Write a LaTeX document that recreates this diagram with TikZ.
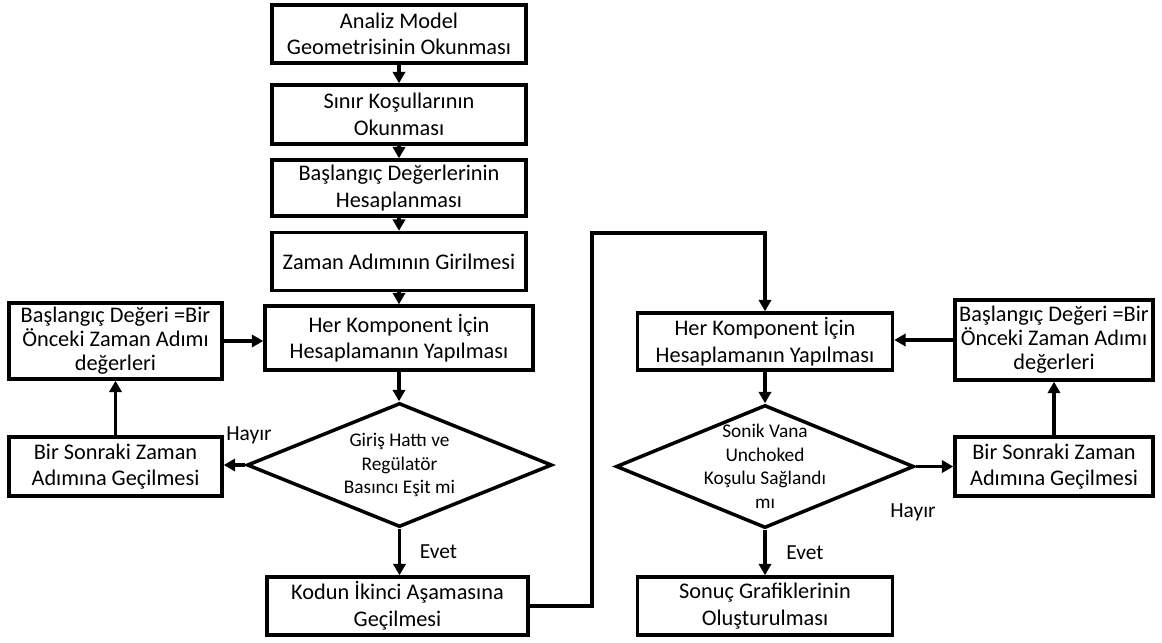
\documentclass[tikz,border=0pt]{standalone}
\usepackage{fontspec}
\setmainfont{Carlito}
\usepackage{tikz}
\usetikzlibrary{arrows.meta,positioning,shapes.geometric}

\begin{document}
\begin{tikzpicture}[
        stepbox/.style={draw, line width=2pt, align=center, inner xsep=2pt, inner ysep=1pt,
                        font=\fontsize{12.7}{15.1}\selectfont},
        sidebox/.style={stepbox, inner ysep=0pt, font=\fontsize{12.7}{13.6}\selectfont},
        decide/.style={draw, diamond, aspect=2.4, line width=2pt, align=center, inner sep=-5pt,
                       font=\fontsize{11}{13.4}\selectfont},
        tag/.style={font=\fontsize{12.2}{14}\selectfont},
        arr/.style={-{Triangle[length=6.5pt,width=7pt]}, line width=1.8pt}
    ]
        \useasboundingbox (0,0) rectangle (23.24,-12.84);

        % first stage
        \node[stepbox, minimum width=5.08cm, minimum height=1.16cm] (read) at (7.98,-0.68)
            {Analiz Model\\Geometrisinin Okunması};
        \node[stepbox, minimum width=5.08cm, minimum height=1.18cm, below=0.37cm of read] (bound)
            {Sınır Koşullarının\\Okunması};
        \node[stepbox, minimum width=5.08cm, minimum height=1.12cm, below=0.25cm of bound] (init)
            {Başlangıç Değerlerinin\\Hesaplanması};
        \node[stepbox, minimum width=5.08cm, minimum height=1.16cm, below=0.26cm of init] (dt)
            {Zaman Adımının Girilmesi};
        \node[stepbox, minimum width=5.36cm, minimum height=1.28cm, below=0.24cm of dt] (compA)
            {Her Komponent İçin\\Hesaplamanın Yapılması};

        \node[sidebox, minimum width=4.26cm, minimum height=1.52cm] (prevA) at (2.31,-6.82)
            {Başlangıç Değeri =Bir\\Önceki Zaman Adımı\\değerleri};
        \node[stepbox, minimum width=4.26cm, minimum height=1.18cm] (nextA) at (2.31,-9.33)
            {Bir Sonraki Zaman\\Adımına Geçilmesi};
        \node[decide, minimum width=6.1cm, minimum height=2.48cm] (checkA) at (7.99,-9.30)
            {Giriş Hattı ve\\Regülatör\\Basıncı Eşit mi};
        \node[stepbox, minimum width=5.22cm, minimum height=1.16cm] (stage2) at (7.95,-12.12)
            {Kodun İkinci Aşamasına\\Geçilmesi};

        \node[tag] (noA) at (4.98,-8.70) {Hayır};
        \node[tag] (yesA) at (8.77,-11.04) {Evet};

        % second stage
        \node[stepbox, minimum width=5.1cm, minimum height=1.14cm] (compB) at (15.3,-6.83)
            {Her Komponent İçin\\Hesaplamanın Yapılması};
        \node[sidebox, minimum width=3.96cm, minimum height=1.6cm] (prevB) at (21.08,-6.8)
            {Başlangıç Değeri =Bir\\Önceki Zaman Adımı\\değerleri};
        \node[stepbox, minimum width=3.96cm, minimum height=1.18cm] (nextB) at (21.08,-9.33)
            {Bir Sonraki Zaman\\Adımına Geçilmesi};
        \node[decide, minimum width=5.96cm, minimum height=2.46cm] (checkB) at (15.3,-9.33)
            {Sonik Vana\\Unchoked\\Koşulu Sağlandı\\mı};
        \node[stepbox, minimum width=5.1cm, minimum height=1.16cm] (plots) at (15.3,-12.12)
            {Sonuç Grafiklerinin\\Oluşturulması};

        \node[tag] (noB) at (18.26,-10.24) {Hayır};
        \node[tag] (yesB) at (16.1,-11.06) {Evet};

        \coordinate (jump) at (11.84,-4.66);

        \draw[arr] (read) -- (bound);
        \draw[arr] (bound) -- (init);
        \draw[arr] (init) -- (dt);
        \draw[arr] (dt) -- (compA);
        \draw[arr] (compA) -- (compA |- checkA.north);
        \draw[arr] (checkA.west) -- (checkA.west -| nextA.east);
        \draw[arr] (nextA) -- (prevA);
        \draw[arr] (prevA.east) -- (prevA.east -| compA.west);
        \draw[arr] (checkA.south) -- (checkA.south |- stage2.north);

        \draw[arr] (stage2.east) -| (jump) -| (compB.north);
        \draw[arr] (compB) -- (checkB);
        \draw[arr] (checkB.east) -- (checkB.east -| nextB.west);
        \draw[arr] (nextB) -- (prevB);
        \draw[arr] (prevB.west) -- (prevB.west -| compB.east);
        \draw[arr] (checkB) -- (plots);
    \end{tikzpicture}
\end{document}
